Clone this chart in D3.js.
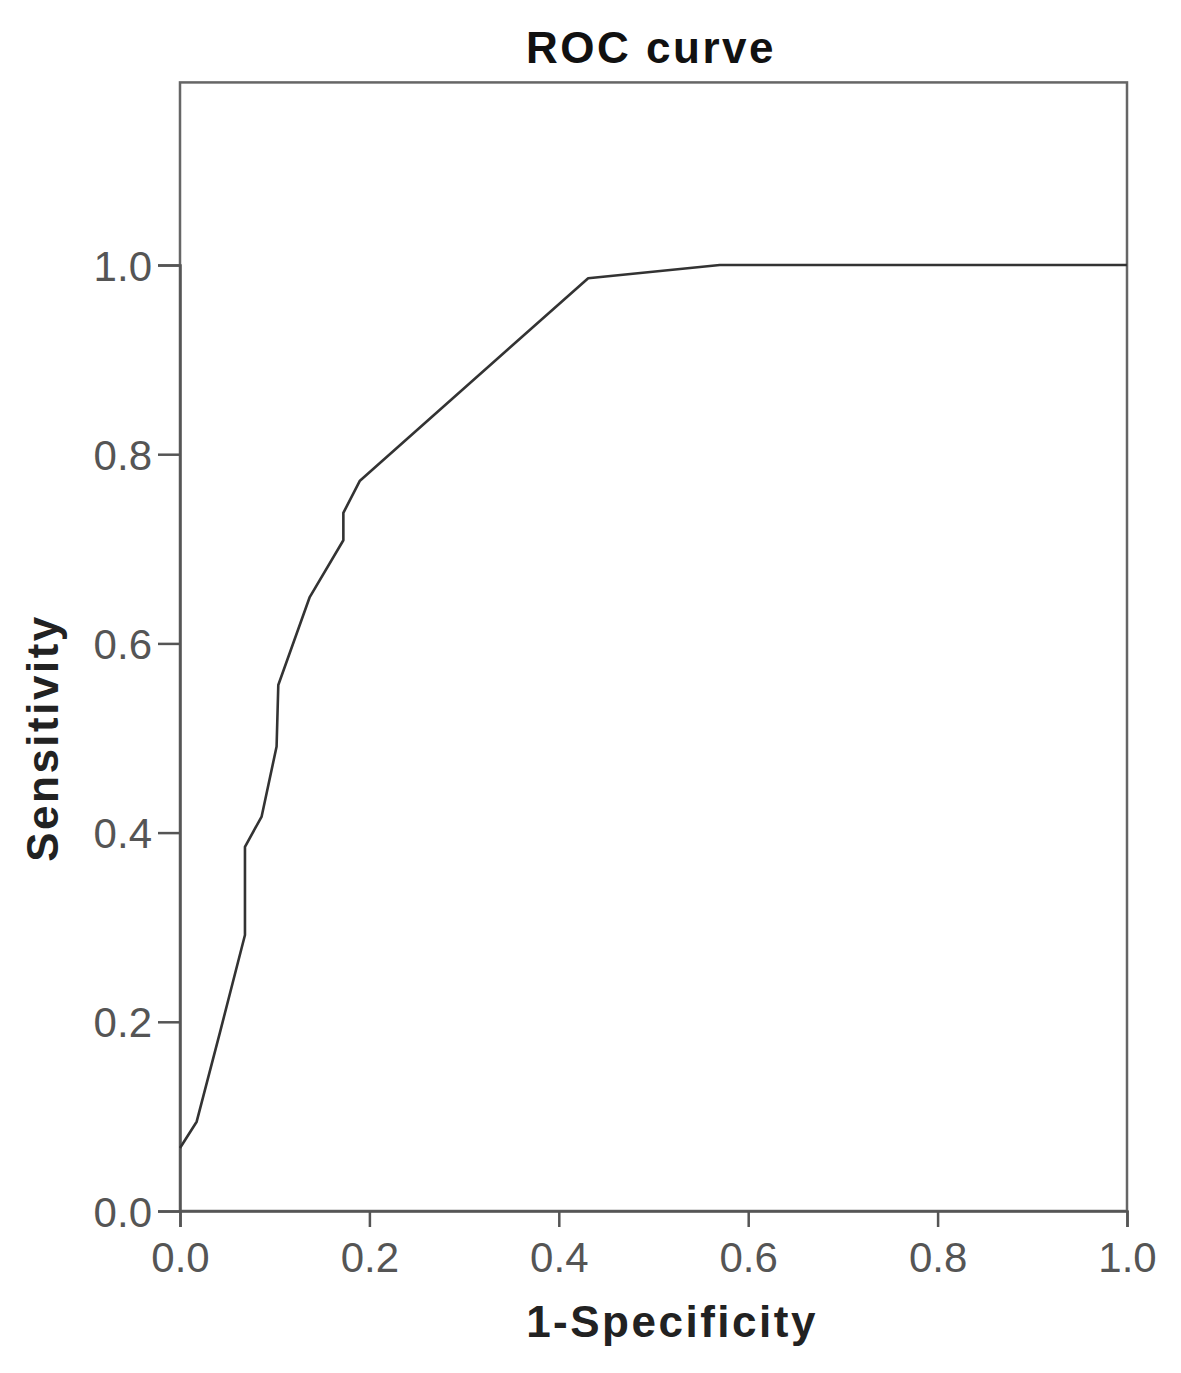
<!DOCTYPE html>
<html><head><meta charset="utf-8">
<script src="https://cdn.jsdelivr.net/npm/d3@7"></script>
<style>body{margin:0;background:#fff}</style>
</head><body>
<script>
const fpr = [0, 0.0176, 0.042, 0.0686, 0.0686, 0.0862, 0.102, 0.1038, 0.137, 0.1725, 0.1725, 0.190, 0.431, 0.570, 1.0];
const tpr = [0.0666, 0.0944, 0.188, 0.2918, 0.385, 0.417, 0.491, 0.556, 0.649, 0.709, 0.738, 0.772, 0.986, 1.0, 1.0];
const xTicks = [0, 0.2, 0.4, 0.6, 0.8, 1.0];
const yTicks = [0, 0.2, 0.4, 0.6, 0.8, 1.0];
const title = "ROC curve", xLabel = "1-Specificity", yLabel = "Sensitivity";
const yTop = 1.193;

const W = 1181, H = 1373;
const svg = d3.select("body").append("svg").attr("width", W).attr("height", H);
const x = d3.scaleLinear().domain([0, 1]).range([180, 1127]);
const y = d3.scaleLinear().domain([0, 1]).range([1211, 265]);
const font = "'Liberation Sans', Arial, sans-serif";

// frame
svg.append("rect").attr("x", x(0)).attr("y", y(yTop)).attr("width", x(1) - x(0)).attr("height", y(0) - y(yTop))
  .attr("fill", "none").attr("stroke", "#666").attr("stroke-width", 2.5);

const xa = svg.append("g").attr("transform", `translate(0,${y(0)})`)
  .call(d3.axisBottom(x).tickValues(xTicks).tickFormat(d3.format(".1f")).tickSize(16).tickPadding(15));
const ya = svg.append("g").attr("transform", `translate(${x(0)},0)`)
  .call(d3.axisLeft(y).tickValues(yTicks).tickFormat(d3.format(".1f")).tickSize(22).tickPadding(6));
[xa, ya].forEach(g => {
  g.select(".domain").attr("stroke", "#555").attr("stroke-width", 2.5);
  g.selectAll(".tick line").attr("stroke", "#555").attr("stroke-width", 2.5);
  g.selectAll(".tick text").attr("fill", "#555").style("font-family", font).style("font-size", "42px");
});
ya.selectAll(".tick text").attr("dy", "0.36em");

// curve
svg.append("path").datum(fpr.map((d, i) => [d, tpr[i]]))
  .attr("d", d3.line().x(d => x(d[0])).y(d => y(d[1])))
  .attr("fill", "none").attr("stroke", "#333").attr("stroke-width", 2.6).attr("stroke-linejoin", "round");

svg.append("text").attr("x", 651).attr("y", 63).attr("text-anchor", "middle")
  .style("font-family", font).style("font-size", "44px").style("font-weight", "bold").style("letter-spacing", "2.5px")
  .attr("fill", "#111").text(title);
svg.append("text").attr("x", 672).attr("y", 1337).attr("text-anchor", "middle")
  .style("font-family", font).style("font-size", "44px").style("font-weight", "bold").style("letter-spacing", "2.5px")
  .attr("fill", "#222").text(xLabel);
svg.append("text").attr("transform", "translate(58,738) rotate(-90)").attr("text-anchor", "middle")
  .style("font-family", font).style("font-size", "44px").style("font-weight", "bold").style("letter-spacing", "2.5px")
  .attr("fill", "#222").text(yLabel);
</script>
</body></html>
